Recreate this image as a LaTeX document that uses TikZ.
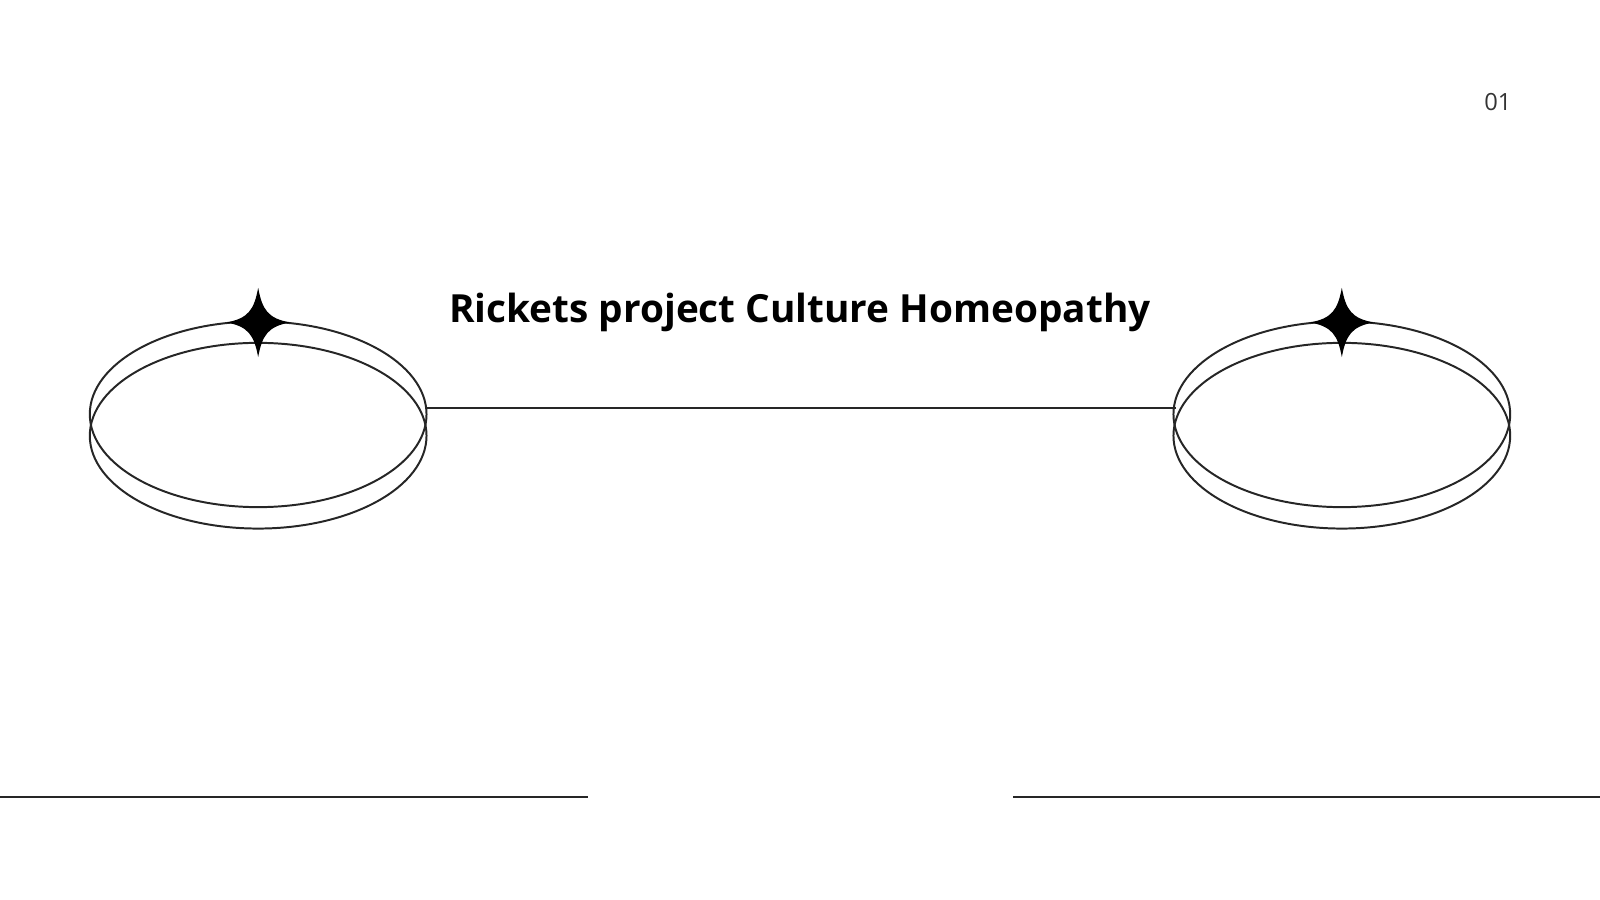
\documentclass[tikz,border=0pt]{standalone}
\usepackage{fontspec}
\setmainfont{Open Sans}
\begin{document}
\begin{tikzpicture}[x=0.01cm,y=-0.01cm,
  ring/.style={line width=0.55pt,draw=black!85},
  rule/.style={line width=0.6pt,draw=black!85}]
\useasboundingbox (0,0) rectangle (1568,882);
\def\drawstar#1#2{\fill (#1,282) .. controls (#1+4,304) and (#1+10,312) .. (#1+31,#2)
   .. controls (#1+10,320) and (#1+4,328) .. (#1,350)
   .. controls (#1-4,328) and (#1-10,320) .. (#1-31,#2)
   .. controls (#1-10,312) and (#1-4,304) .. cycle;}
\foreach \cx/\n in {253/L,1315/R}{
  \draw[ring] (\cx,406) ellipse [x radius=165,y radius=91];
  \draw[ring] (\cx,427) ellipse [x radius=165,y radius=91];
  \drawstar{\cx}{316}
}
\coordinate (Le) at (417,400);
\coordinate (Rw) at (1152,400);
\draw[rule] (Le) -- (Rw);
\node[font=\bfseries\fontsize{10.8}{13}\selectfont] (title) at (784,306) {Rickets project Culture Homeopathy};
\node[font=\fontsize{6.6}{8}\selectfont,text=black!80] (num) at (1468,100) {01};
\coordinate (a1) at (0,781); \coordinate (a2) at (576,781);
\coordinate (b1) at (993,781); \coordinate (b2) at (1568,781);
\draw[rule] (a1) -- (a2);
\draw[rule] (b1) -- (b2);
\end{tikzpicture}
\end{document}
